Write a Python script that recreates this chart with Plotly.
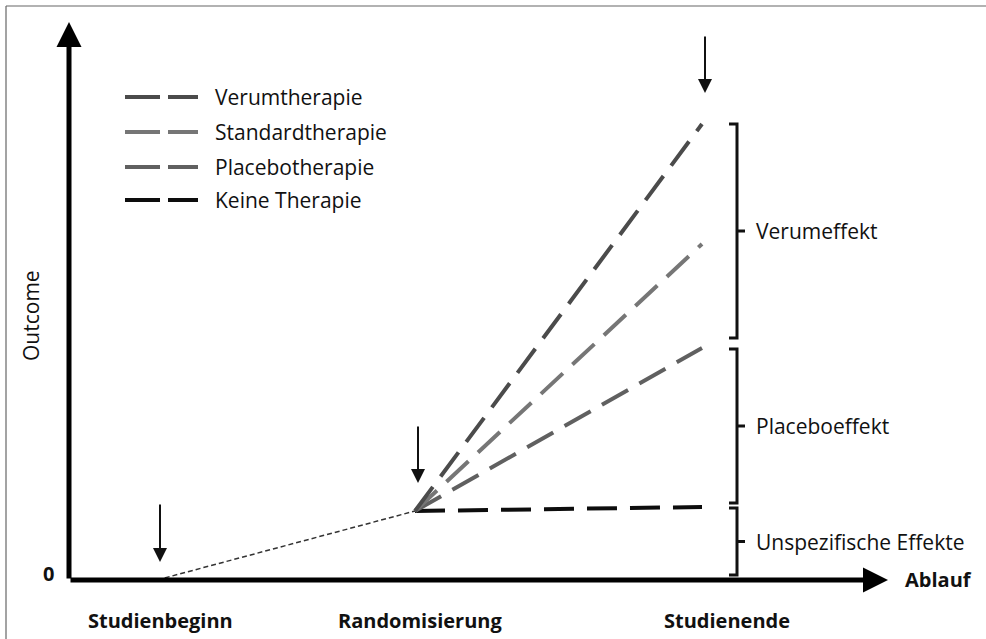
import plotly.graph_objects as go

# ---- data ----
phase_labels = ["Studienbeginn", "Randomisierung", "Studienende"]
phase_x = [0.88, 3.46, 6.33]          # time axis positions
baseline_y = [0.0, 0.69]               # outcome at Studienbeginn and at Randomisierung
therapies = ["Verumtherapie", "Standardtherapie", "Placebotherapie", "Keine Therapie"]
end_outcome = [4.56, 3.36, 2.32, 0.73] # outcome at Studienende
colors = ["#4b4b4b", "#767676", "#606060", "#0d0d0d"]
effects = ["Verumeffekt", "Placeboeffekt", "Unspezifische Effekte"]

FONT = "Open Sans"
FS = 21      # regular text size
FSB = 20     # bold text size
W, H = 986, 639
# axis ranges: 100 px per unit, origin at pixel (69, 580)
XR = [-0.69, (W - 69) / 100]
YR = [-(H - 580) / 100, 5.80]

fig = go.Figure()

# thin dashed line Studienbeginn -> Randomisierung
fig.add_trace(go.Scatter(x=phase_x[:2], y=baseline_y, mode="lines",
                         line=dict(color="#333333", width=1.5, dash="5px,3px"),
                         hoverinfo="skip", showlegend=False))

# therapy lines Randomisierung -> Studienende (draw back to front)
for name, yend, col in reversed(list(zip(therapies, end_outcome, colors))):
    fig.add_trace(go.Scatter(x=[phase_x[1], phase_x[2]], y=[baseline_y[1], yend],
                             mode="lines", name=name,
                             line=dict(color=col, width=4, dash="30px,13px"),
                             hoverinfo="skip", showlegend=False))

# manual legend
leg_x0, leg_x1 = 0.56, 1.29
leg_rows = [4.83, 4.48, 4.13, 3.80]
for name, col, ly in zip(therapies, colors, leg_rows):
    fig.add_trace(go.Scatter(x=[leg_x0, leg_x1], y=[ly, ly], mode="lines",
                             line=dict(color=col, width=4, dash="35px,8px"),
                             hoverinfo="skip", showlegend=False))
    fig.add_annotation(x=1.44, y=ly, text=name, showarrow=False, xanchor="left",
                       yanchor="middle", font=dict(family=FONT, size=FS, color="#111"))

shapes = []

# axes arrows
fig.add_annotation(x=8.19, y=0, ax=0, ay=0, axref="x", ayref="y", xref="x", yref="y",
                   text="", showarrow=True, arrowhead=2, arrowsize=1.0, arrowwidth=5,
                   arrowcolor="#000")
fig.add_annotation(x=0, y=5.58, ax=0, ay=0, axref="x", ayref="y", xref="x", yref="y",
                   text="", showarrow=True, arrowhead=2, arrowsize=1.0, arrowwidth=5,
                   arrowcolor="#000")

# small down arrows marking phases
arrow_tops = [0.77, 1.55, 5.45]
arrow_tips = [0.18, 0.97, 4.87]
for px, yt, yb in zip(phase_x, arrow_tops, arrow_tips):
    fig.add_annotation(x=px + 0.03, y=yb, ax=px + 0.03, ay=yt, axref="x", ayref="y",
                       xref="x", yref="y", text="", showarrow=True, arrowhead=2,
                       arrowsize=1.4, arrowwidth=2, arrowcolor="#111")

# phase labels
label_shift = [3, 5, 25]
for lab, px, sh in zip(phase_labels, phase_x, label_shift):
    fig.add_annotation(x=px, y=-0.40, text="<b>" + lab + "</b>", showarrow=False,
                       xshift=sh, font=dict(family=FONT, size=FSB, color="#111"))

# axis texts
fig.add_annotation(x=-0.21, y=0.07, text="<b>0</b>", showarrow=False,
                   font=dict(family=FONT, size=FSB, color="#111"))
fig.add_annotation(x=8.34, y=0.01, text="<b>Ablauf</b>", showarrow=False, xanchor="left",
                   font=dict(family=FONT, size=FSB, color="#111"))
fig.add_annotation(x=-0.38, y=2.64, text="Outcome", showarrow=False, textangle=-90,
                   font=dict(family=FONT, size=FS, color="#111"))

# braces between end outcomes
bx = 6.68
brace_top = [end_outcome[0], end_outcome[2] - 0.01, end_outcome[3] - 0.01]
brace_bot = [end_outcome[2] + 0.10, end_outcome[3] + 0.04, 0.05]
for lab, t, b in zip(effects, brace_top, brace_bot):
    m = (t + b) / 2
    path = (f"M {bx-0.08},{t} L {bx},{t} L {bx},{b} L {bx-0.08},{b} "
            f"M {bx},{m} L {bx+0.08},{m}")
    shapes.append(dict(type="path", path=path, xref="x", yref="y",
                       line=dict(color="#111", width=3)))
    fig.add_annotation(x=bx + 0.17, y=m, text=lab, showarrow=False, xanchor="left",
                       yanchor="middle", font=dict(family=FONT, size=FS, color="#111"))

# frame (left/top edges)
shapes.append(dict(type="line", xref="paper", yref="paper", x0=6 / W, x1=6 / W,
                   y0=0, y1=1 - 6 / H, line=dict(color="#666", width=1.2)))
shapes.append(dict(type="line", xref="paper", yref="paper", x0=6 / W, x1=1,
                   y0=1 - 6 / H, y1=1 - 6 / H, line=dict(color="#666", width=1.2)))

fig.update_layout(
    width=W, height=H, margin=dict(l=0, r=0, t=0, b=0),
    paper_bgcolor="white", plot_bgcolor="white", shapes=shapes,
    xaxis=dict(range=XR, visible=False, fixedrange=True),
    yaxis=dict(range=YR, visible=False, fixedrange=True),
    showlegend=False,
)
fig.write_html("out.html", config={"displayModeBar": False},
               post_script="document.body.style.margin='0';document.body.style.overflow='hidden';")
